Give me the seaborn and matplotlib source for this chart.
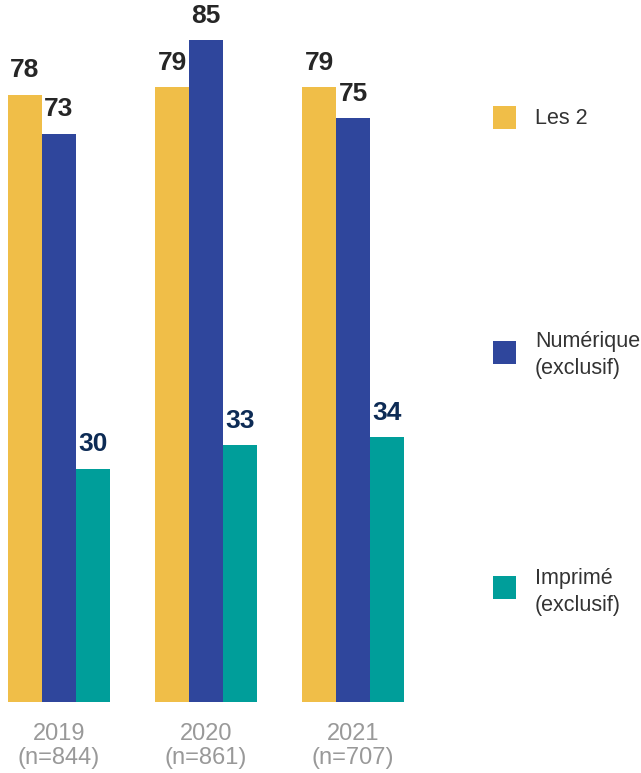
import matplotlib
matplotlib.use("Agg")
import matplotlib.pyplot as plt
import seaborn as sns
import pandas as pd
from matplotlib.patches import Rectangle

years = ["2019\n(n=844)", "2020\n(n=861)", "2021\n(n=707)"]
series = ["Les 2", "Numérique\n(exclusif)", "Imprimé\n(exclusif)"]
les2 = [78, 79, 79]
numerique = [73, 85, 75]
imprime = [30, 33, 34]
colors = ["#F0BE48", "#2F469C", "#009E9A"]
label_colors = ["#262626", "#262626", "#0D2B55"]

rows = []
for s, vals in zip(series, [les2, numerique, imprime]):
    for y, v in zip(years, vals):
        rows.append({"year": y, "series": s, "value": v})
df = pd.DataFrame(rows)

sns.set_theme(style="white")
plt.rcParams["font.family"] = ["Liberation Sans", "DejaVu Sans"]

fig = plt.figure(figsize=(6.41, 7.73), dpi=100)
ax = fig.add_axes([0, (773 - 702) / 773, 440 / 641, 702 / 773])
sns.barplot(data=df, x="year", y="value", hue="series", order=years,
            hue_order=series, palette=colors, width=0.694, gap=0,
            saturation=1, ax=ax, legend=False, linewidth=0)

for cont, lc in zip(ax.containers, label_colors):
    ax.bar_label(cont, labels=[f"{int(b.get_height())}" for b in cont],
                 padding=9, fontsize=19, fontweight="bold", color=lc)

ax.set_xlim(-0.401, 2.59)
ax.set_ylim(0, 90.2)
ax.set_xlabel("")
ax.set_ylabel("")
ax.set_yticks([])
ax.tick_params(axis="x", length=0, pad=15, labelsize=17, labelcolor="#999999")
for lbl in ax.get_xticklabels():
    lbl.set_linespacing(1.1)
for sp in ax.spines.values():
    sp.set_visible(False)

# legend
W, H = 641, 773
leg_items = [(series[0], 117, 118), (series[1], 352, 355), (series[2], 587, 592)]
for (lab, cy, ty), c in zip(leg_items, colors):
    fig.add_artist(Rectangle((493 / W, 1 - (cy + 11.5) / H), 23 / W, 23 / H,
                             transform=fig.transFigure, color=c, lw=0))
    fig.text(535 / W, 1 - ty / H, lab, fontsize=15.5, color="#333333",
             va="center", ha="left", linespacing=1.35)

fig.savefig("out.png", dpi=100)
